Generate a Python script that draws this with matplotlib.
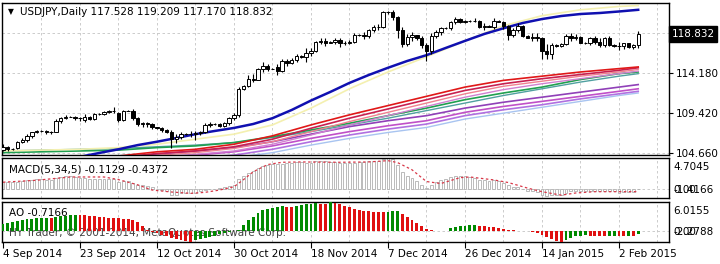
import numpy as np
import matplotlib.pyplot as plt
from matplotlib.transforms import blended_transform_factory

# ---- data (bar index = one daily bar, Sunday bars included) ----
date_bars = [0, 16, 32, 48, 64, 80, 96, 112, 128]
date_labels = ['4 Sep 2014', '23 Sep 2014', '12 Oct 2014', '30 Oct 2014', '18 Nov 2014',
               '7 Dec 2014', '26 Dec 2014', '14 Jan 2015', '2 Feb 2015']

opens = [105.0, 105.4, 105.1, 105.2, 106.0, 106.2, 106.7, 107.1, 107.3, 107.3,
         107.1, 107.2, 108.5, 108.8, 109.0, 109.0, 108.8, 108.6, 109.0, 108.7,
         109.3, 109.3, 109.5, 109.6, 109.4, 108.6, 109.7, 109.7, 108.8, 108.1,
         108.2, 108.1, 107.7, 107.6, 107.4, 107.2, 106.3, 106.6, 106.9, 106.9,
         106.9, 107.0, 107.1, 108.0, 108.1, 108.1, 107.9, 108.2, 108.8, 109.2,
         112.3, 112.6, 113.5, 113.4, 114.6, 115.0, 114.7, 114.9, 114.4, 115.6,
         115.4, 115.7, 116.2, 116.1, 116.5, 116.8, 117.9, 118.0, 117.8, 117.9,
         118.1, 117.7, 117.8, 117.9, 118.7, 118.7, 118.6, 119.3, 119.6, 119.7,
         121.4, 121.4, 120.8, 119.3, 117.6, 118.5, 118.7, 118.3, 117.5, 116.8,
         118.6, 119.0, 119.5, 119.5, 120.2, 120.6, 120.3, 120.4, 120.4, 120.4,
         119.7, 119.8, 119.7, 120.4, 120.3, 119.8, 118.7, 119.3, 119.8, 118.6,
         118.4, 118.5, 118.3, 116.8, 116.4, 117.5, 117.4, 117.6, 118.6, 118.3,
         118.5, 117.8, 117.7, 118.3, 117.9, 117.5, 118.3, 117.5, 117.4, 117.4,
         117.7, 117.3, 117.528]
highs = [105.7, 105.5, 105.2, 106.1, 106.4, 106.9, 107.2, 107.4, 107.4, 107.4,
         107.3, 108.7, 109.0, 109.2, 109.1, 109.1, 109.0, 109.3, 109.1, 109.4,
         109.4, 109.7, 109.8, 110.1, 109.5, 109.8, 109.8, 109.9, 108.9, 108.4,
         108.4, 108.2, 107.7, 107.7, 107.5, 107.4, 106.9, 107.1, 107.0, 107.3,
         107.3, 107.3, 108.2, 108.4, 108.2, 108.2, 108.4, 109.0, 109.4, 112.5,
         112.7, 113.9, 114.1, 114.8, 115.5, 115.2, 114.8, 115.2, 115.9, 115.9,
         116.0, 116.4, 116.3, 117.1, 117.2, 118.0, 118.4, 118.4, 118.0, 118.4,
         118.3, 118.0, 118.1, 118.9, 118.8, 119.0, 119.4, 119.9, 120.0, 121.6,
         121.5, 121.7, 121.0, 119.6, 118.8, 119.0, 118.7, 118.6, 117.7, 118.9,
         119.3, 119.6, 119.6, 120.4, 120.8, 120.7, 120.5, 120.5, 120.7, 120.5,
         120.1, 119.9, 120.7, 120.5, 120.4, 119.9, 119.5, 120.1, 119.9, 118.7,
         118.9, 118.9, 118.5, 117.6, 117.7, 117.6, 117.8, 118.8, 118.9, 118.8,
         118.6, 117.9, 118.5, 118.6, 118.3, 118.5, 118.6, 117.6, 117.9, 117.8,
         117.8, 117.6, 119.209]
lows = [104.9, 104.9, 105.0, 105.1, 105.8, 106.0, 106.5, 107.0, 107.2, 106.9,
        106.9, 107.1, 108.2, 108.7, 108.9, 108.6, 108.5, 108.4, 108.6, 108.6,
        109.2, 109.2, 109.4, 109.4, 108.3, 108.5, 109.6, 108.6, 107.9, 107.8,
        107.8, 107.5, 107.5, 107.1, 107.0, 105.2, 105.9, 106.3, 106.8, 106.6,
        106.2, 106.8, 107.0, 107.8, 108.0, 107.7, 107.7, 108.0, 108.6, 109.0,
        112.2, 112.5, 113.1, 113.3, 114.3, 114.4, 114.6, 114.0, 114.3, 115.0,
        115.2, 115.5, 116.0, 115.5, 116.2, 116.7, 117.6, 117.4, 117.7, 117.6,
        117.3, 117.5, 117.6, 117.8, 118.6, 118.2, 118.4, 119.0, 119.3, 119.5,
        121.2, 120.5, 118.4, 117.3, 117.4, 118.0, 118.1, 117.1, 115.6, 116.4,
        118.4, 118.7, 119.4, 119.3, 120.0, 120.1, 120.1, 120.3, 120.2, 119.5,
        119.3, 119.6, 119.4, 120.2, 119.4, 118.1, 118.5, 119.1, 118.5, 118.3,
        118.0, 118.0, 115.9, 115.9, 115.9, 117.3, 117.3, 117.5, 118.0, 118.1,
        117.7, 117.6, 117.5, 117.6, 117.3, 117.3, 117.4, 117.3, 116.9, 117.0,
        117.1, 117.0, 117.17]
closes = [105.4, 105.1, 105.1, 106.0, 106.2, 106.7, 107.1, 107.3, 107.3, 107.1,
          107.2, 108.5, 108.8, 109.0, 109.0, 108.8, 108.8, 109.0, 108.7, 109.3,
          109.3, 109.5, 109.7, 109.6, 108.6, 109.7, 109.7, 108.8, 108.1, 108.2,
          108.1, 107.7, 107.6, 107.4, 107.2, 106.3, 106.6, 106.9, 106.9, 106.9,
          107.0, 107.1, 108.0, 108.1, 108.1, 107.9, 108.2, 108.8, 109.2, 112.3,
          112.6, 113.5, 113.4, 114.6, 115.0, 114.7, 114.7, 114.4, 115.6, 115.4,
          115.7, 116.2, 116.1, 116.5, 116.8, 117.9, 118.0, 117.8, 117.9, 118.1,
          117.7, 117.8, 117.9, 118.7, 118.7, 118.6, 119.3, 119.6, 119.7, 121.4,
          121.4, 120.8, 119.3, 117.6, 118.5, 118.7, 118.3, 117.5, 116.8, 118.6,
          119.0, 119.5, 119.5, 120.2, 120.6, 120.3, 120.4, 120.4, 120.4, 119.7,
          119.8, 119.7, 120.4, 120.3, 119.8, 118.7, 119.3, 119.8, 118.6, 118.4,
          118.5, 118.3, 116.8, 116.4, 117.5, 117.4, 117.6, 118.6, 118.3, 118.5,
          117.8, 117.7, 118.3, 117.9, 117.5, 118.3, 117.5, 117.4, 117.4, 117.7,
          117.3, 117.5, 118.832]

# the blue average, read every 4 bars
blue_bars = [0, 8, 16, 20, 24, 28, 32, 36, 40, 44, 48, 52, 56, 60, 64, 68, 72, 76,
             80, 84, 88, 92, 96, 100, 104, 108, 112, 116, 120, 124, 128, 132]
ma_blue = [103.2, 103.5, 104.2, 104.66, 105.1, 105.6, 106.0, 106.44, 106.9, 107.28,
           107.64, 108.11, 108.8, 109.78, 110.9, 111.92, 113.0, 113.94, 114.8, 115.61,
           116.3, 117.16, 118.0, 118.82, 119.5, 120.13, 120.6, 120.96, 121.2, 121.32,
           121.5, 121.7]

# the other averages, read at every 8th bar plus the last bar
ma_bars = [0, 8, 16, 24, 32, 40, 48, 56, 64, 72, 80, 88, 96, 104, 112, 120, 128, 132]
ma_yellow = [104.9, 105.0, 105.1, 105.3, 105.7, 106.3, 106.9, 108.0, 110.0, 112.3,
             114.3, 116.1, 118.0, 119.8, 121.0, 121.7, 122.1, 122.2]
ma_red = [102.6, 103.2, 103.8, 104.3, 104.8, 105.1, 105.7, 106.7, 108.0, 109.2,
          110.3, 111.4, 112.5, 113.3, 113.8, 114.3, 114.7, 114.9]
ma_crimson = [102.5, 103.0, 103.6, 104.1, 104.6, 104.9, 105.4, 106.3, 107.6, 108.8,
              109.9, 111.0, 112.1, 112.9, 113.5, 114.0, 114.5, 114.8]
ma_salmon = [102.3, 102.8, 103.4, 103.9, 104.4, 104.7, 105.2, 106.0, 107.2, 108.4,
             109.5, 110.6, 111.7, 112.6, 113.2, 113.8, 114.3, 114.6]
ma_orchid = [102.1, 102.6, 103.2, 103.7, 104.2, 104.5, 104.9, 105.7, 106.8, 108.0,
             109.1, 110.2, 111.3, 112.2, 112.9, 113.5, 114.1, 114.4]
ma_green = [104.7, 104.8, 104.9, 105.0, 105.3, 105.5, 105.9, 106.6, 107.4, 108.2,
            109.1, 110.0, 111.0, 111.8, 112.5, 113.4, 114.1, 114.3]
ma_teal = [104.9, 105.0, 105.1, 105.2, 105.4, 105.6, 105.9, 106.5, 107.2, 108.0,
           108.8, 109.7, 110.6, 111.5, 112.3, 113.1, 113.8, 114.1]
ma_purple = [102.6, 103.2, 103.8, 104.2, 104.5, 104.9, 105.3, 106.0, 106.9, 107.8,
             108.5, 109.1, 110.0, 110.7, 111.3, 111.9, 112.5, 112.8]
ma_magenta = [102.2, 102.8, 103.4, 103.7, 104.1, 104.4, 104.8, 105.5, 106.4, 107.2,
              107.9, 108.5, 109.5, 110.2, 110.8, 111.4, 112.0, 112.3]
ma_violet = [101.9, 102.4, 103.0, 103.4, 103.7, 104.1, 104.4, 105.1, 106.0, 106.8,
             107.5, 108.1, 109.1, 109.8, 110.4, 111.1, 111.7, 112.0]
ma_lightblue = [101.6, 102.1, 102.7, 103.1, 103.4, 103.8, 104.1, 104.7, 105.6, 106.4,
                107.1, 107.7, 108.7, 109.4, 110.1, 110.8, 111.5, 111.8]

macd_main = [1.0, 1.0, 1.0, 1.1, 1.2, 1.3, 1.4, 1.5, 1.5, 1.4,
             1.4, 1.6, 1.8, 1.9, 1.9, 1.8, 1.7, 1.7, 1.5, 1.5,
             1.5, 1.5, 1.5, 1.5, 1.1, 1.2, 1.2, 0.9, 0.6, 0.5,
             0.4, 0.2, 0.0, -0.2, -0.4, -0.9, -0.9, -0.7, -0.6, -0.6,
             -0.6, -0.4, -0.2, 0.0, 0.0, 0.1, 0.2, 0.4, 0.6, 1.5,
             1.9, 2.4, 2.7, 3.1, 3.5, 3.7, 3.8, 3.8, 3.8, 4.0,
             4.0, 4.1, 4.1, 4.0, 4.0, 4.2, 4.3, 4.2, 4.1, 4.1,
             4.0, 3.9, 3.9, 4.0, 4.1, 4.1, 4.2, 4.3, 4.3, 4.6,
             4.7045, 4.5, 3.6, 2.6, 2.0, 1.6, 1.2, 0.6, 0.1, 0.6,
             1.0, 1.4, 1.5, 1.8, 2.0, 2.0, 1.9, 1.8, 1.7, 1.4,
             1.3, 1.2, 1.3, 1.2, 0.9, 0.5, 0.3, 0.2, -0.1, -0.3,
             -0.4, -0.5, -0.9, -1.1, -1.0, -1.0, -0.9, -0.6, -0.4, -0.3,
             -0.3, -0.3, -0.3, -0.3, -0.4, -0.3, -0.4, -0.4, -0.6, -0.5,
             -0.5, -0.5, -0.1129]
sig_bars = [0, 7, 14, 21, 24, 28, 31, 35, 39, 42, 45, 48, 50, 52, 55, 58, 62, 70,
            76, 80, 82, 85, 88, 91, 95, 97, 102, 105, 109, 112, 116, 119, 123, 128, 132]
sig_vals = [1.0, 1.3, 1.8, 1.8, 1.4, 0.6, -0.2, -0.5, -0.7, -0.55, -0.2, 0.3, 1.4, 2.6,
            3.7, 4.05, 4.1, 4.05, 4.1, 4.3, 4.0, 2.9, 1.1, 0.8, 1.7, 1.8, 1.35, 0.95,
            0.1, -0.45, -0.98, -0.65, -0.45, -0.45, -0.4372]

ao_vals = [1.4, 1.6, 1.8, 2.0, 2.2, 2.4, 2.5, 2.6, 2.7, 2.8,
           2.7, 2.9, 3.1, 3.2, 3.3, 3.4, 3.35, 3.3, 3.2, 3.1,
           3.0, 2.9, 2.8, 2.7, 2.6, 2.5, 2.4, 2.25, 1.8, 1.1,
           0.3, -0.2, -0.5, -0.8, -1.1, -1.4, -1.6, -1.8, -2.0, -2.2788,
           -1.9, -1.7, -1.5, -1.3, -1.0, -0.7, -0.5, -0.3, -0.1, 0.3,
           1.2, 2.2, 3.0, 3.8, 4.3, 4.6, 4.8, 5.0, 5.1, 5.05,
           4.95, 5.2, 5.4, 5.5, 5.6, 5.75, 5.7, 5.65, 6.0155, 5.8,
           5.5, 5.2, 4.9, 4.5, 4.3, 4.2, 4.1, 4.0, 3.95, 3.9,
           4.0, 4.1, 4.15, 3.6, 3.0, 2.3, 1.6, 1.0, 0.4, 0.15,
           0.05, 0.0, 0.1, 0.6, 0.9, 1.0, 1.1, 1.2, 1.25, 1.1,
           1.0, 0.9, 0.8, 0.7, 0.5, 0.3, 0.2, 0.1, 0.0, -0.1,
           -0.2, -0.4, -0.8, -1.3, -1.7, -2.0, -2.2, -1.8, -1.4, -1.1,
           -0.95, -0.9, -0.95, -1.0, -1.05, -1.1, -1.0, -0.95, -1.0, -1.05,
           -1.0, -1.05, -0.7166]

price_ticks = [104.660, 109.420, 114.180]
price_grid = [104.660, 109.420, 114.180, 118.940]
last_price = 118.832


def box(x0, y0, x1, y1):
    # pixel box (top-left origin) -> figure fraction rect
    return [x0 / 720, 1 - y1 / 264, (x1 - x0) / 720, (y1 - y0) / 264]


fig = plt.figure(figsize=(7.2, 2.64), dpi=100)
fig.patch.set_facecolor('white')

ax = fig.add_axes(box(2, 3, 669, 155))
ax_macd = fig.add_axes(box(2, 158, 669, 198))
ax_ao = fig.add_axes(box(2, 202, 669, 242))

grid_kw = dict(color='#c4c4c4', lw=0.6, ls=(0, (3, 3)), zorder=0)
for a in (ax, ax_macd, ax_ao):
    a.set_xlim(-0.2, 138.4)
    for s in a.spines.values():
        s.set_color('black')
        s.set_linewidth(1.0)
    for b in range(8, 139, 8):
        a.axvline(b, **grid_kw)
    a.set_xticks([])

# ---- main price panel ----
x = np.arange(len(closes))
o = np.array(opens)
h = np.array(highs)
l = np.array(lows)
c = np.array(closes)

ax.set_ylim(104.42, 122.51)
for g in price_grid:
    ax.axhline(g, **grid_kw)

ax.plot(ma_bars, ma_lightblue, color='#a8c4f0', lw=1.0, zorder=2)
ax.plot(ma_bars, ma_violet, color='#b070e0', lw=1.2, zorder=2)
ax.plot(ma_bars, ma_magenta, color='#c050c8', lw=1.2, zorder=2)
ax.plot(ma_bars, ma_purple, color='#9040b8', lw=1.2, zorder=2)
ax.plot(ma_bars, ma_teal, color='#50a0a0', lw=1.0, zorder=2)
ax.plot(ma_bars, ma_green, color='#20a050', lw=1.2, zorder=2)
ax.plot(ma_bars, ma_orchid, color='#d080d0', lw=1.0, zorder=2)
ax.plot(ma_bars, ma_salmon, color='#f08090', lw=1.0, zorder=2)
ax.plot(ma_bars, ma_crimson, color='#c82050', lw=1.2, zorder=2)
ax.plot(ma_bars, ma_red, color='#e01818', lw=1.2, zorder=2)
ax.plot(ma_bars, ma_yellow, color='#f4f0b0', lw=1.2, zorder=2)
ax.plot(blue_bars, ma_blue, color='#1010b0', lw=1.8, zorder=3)

ax.vlines(x, l, h, color='black', lw=0.8, zorder=4)
up = c >= o
ax.bar(x[up], (c - o)[up], bottom=o[up], width=0.7, facecolor='white',
       edgecolor='black', linewidth=0.7, zorder=5)
ax.bar(x[~up], (c - o)[~up], bottom=o[~up], width=0.7, facecolor='black',
       edgecolor='black', linewidth=0.7, zorder=5)

ax.yaxis.tick_right()
ax.set_yticks(price_ticks)
ax.set_yticklabels([f'{v:.3f}' for v in price_ticks])
ax.tick_params(axis='y', length=3, pad=2, labelsize=7.5, colors='black')
tr = blended_transform_factory(ax.transAxes, ax.transData)
ax.text(1.004, last_price, f'{last_price:.3f}', transform=tr, color='white',
        fontsize=7.5, va='center', ha='left',
        bbox=dict(facecolor='black', edgecolor='black', boxstyle='square,pad=0.25'))

fig.text(8 / 720, 1 - 12 / 264, '\u25bc', fontsize=5.5, va='center', ha='left')
fig.text(20 / 720, 1 - 12 / 264, 'USDJPY,Daily 117.528 119.209 117.170 118.832',
         fontsize=7.5, va='center', ha='left')

# ---- MACD panel ----
ax_macd.set_ylim(-1.4166, 4.7045)
ax_macd.axhline(0, **grid_kw)
ax_macd.bar(x, macd_main, width=0.6, facecolor='white', edgecolor='#b0b0b0',
            linewidth=0.6, zorder=2)
ax_macd.plot(sig_bars, sig_vals, color='#d83848', lw=0.9, ls=(0, (2, 2)), zorder=3)
ax_macd.set_yticks([])
ax_macd.text(0.011, 0.7, 'MACD(5,34,5) -0.1129 -0.4372', transform=ax_macd.transAxes,
             fontsize=7.5, va='center', ha='left', zorder=4)

# ---- AO panel ----
ao = np.array(ao_vals)
rising = np.concatenate([[True], ao[1:] > ao[:-1]])
ao_colors = np.where(rising, '#008a00', '#e01010')
ax_ao.set_ylim(-2.2788, 6.0155)
ax_ao.axhline(0, **grid_kw)
ax_ao.bar(x, ao, width=0.6, color=ao_colors, zorder=3)
ax_ao.set_yticks([])
ax_ao.text(0.011, 0.72, 'AO -0.7166', transform=ax_ao.transAxes,
           fontsize=7.5, va='center', ha='left', zorder=4)
ax_ao.text(0.011, 0.22, 'HY Trader, \u00a9 2001-2014, MetaQuotes Software Corp.',
           transform=ax_ao.transAxes, fontsize=7.5, color='#404040',
           va='center', ha='left', zorder=1)

ax_ao.set_xticks(date_bars)
ax_ao.set_xticklabels(date_labels, ha='left', fontsize=7.5)
ax_ao.tick_params(axis='x', length=4, pad=1.0, colors='black')

# right side scale values of the sub windows (zero and minimum share a row, as in MT4)
for txt, ypx in [('4.7045', 167), ('0.00', 190), ('-1.4166', 190),
                 ('6.0155', 211), ('0.00', 232), ('-2.2788', 232)]:
    fig.text(673 / 720, 1 - ypx / 264, txt, fontsize=7.5, va='center', ha='left')

fig.savefig('out.png', dpi=100)
